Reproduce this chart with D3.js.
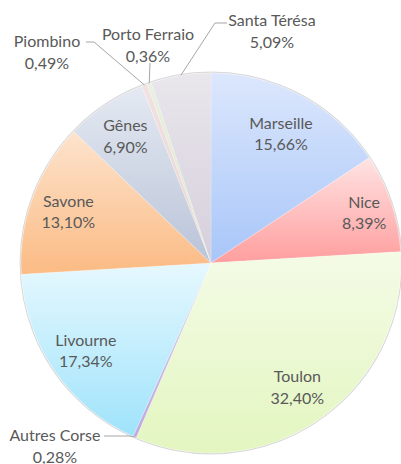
<!DOCTYPE html>
<html>
<head>
<meta charset="utf-8">
<script src="https://cdn.jsdelivr.net/npm/d3@7"></script>
<style>
  body { margin: 0; background: #fff; }
  svg { display: block; }
</style>
</head>
<body>
<div id="main"></div>
<script>
// share of each port, clockwise from 12 o'clock
const PORTS = ["Marseille", "Nice", "Toulon", "Autres Corse", "Livourne",
               "Savone", "Gênes", "Piombino", "Porto Ferraio", "Santa Térésa"];
const SHARES = [15.66, 8.39, 32.40, 0.28, 17.34, 13.10, 6.90, 0.49, 0.36, 5.09];
const SHARE_LABELS = ["15,66%", "8,39%", "32,40%", "0,28%", "17,34%",
                      "13,10%", "6,90%", "0,49%", "0,36%", "5,09%"];

// excel-like gradient fills: [top, bottom]
const COLORS = [
    ["#dce7fc", "#a8c6f9"],
    ["#ffe3e3", "#ff9e9e"],
    ["#f4fbe6", "#e3f6c0"],
    ["#d7c8ee", "#bfa9e0"],
    ["#e6f8fe", "#9fe3fb"],
    ["#fde3cd", "#fbbb84"],
    ["#e4e9f2", "#bac4d8"],
    ["#f2e2e2", "#e8d0d0"],
    ["#e9f0e0", "#d6e4c6"],
    ["#e9e6ec", "#d5cfdb"],
];

const ctx = {
    w: 401,
    h: 464,
    cx: 211,
    cy: 263,
    r: 190,
    font: "Lato, 'Open Sans', sans-serif",
    fontSize: 16,
    lineH: 21.5,
    textColor: "#595959",
};

// label placement: inside labels sit on a fraction of the radius,
// small slices get their label outside with a leader line
const LABEL_LAYOUT = {
    "Marseille":     {k: 0.78},
    "Nice":          {k: 0.85},
    "Toulon":        {k: 0.79},
    "Livourne":      {k: 0.80},
    "Savone":        {k: 0.80},
    "Gênes":         {k: 0.81},
    "Autres Corse":  {x: 55, y: 434, line: [[104, 436], [130, 436]]},
    "Piombino":      {x: 47, y: 40, line: [[86, 42], [94, 42]]},
    "Porto Ferraio": {x: 148, y: 33, line: [[150, 63]]},
    "Santa Térésa":  {x: 272, y: 19, line: [[227, 23], [215, 23]]},
};

function createViz() {
    let svgEl = d3.select("#main").append("svg")
        .attr("width", ctx.w)
        .attr("height", ctx.h);

    let data = PORTS.map((p, i) => ({port: p, share: SHARES[i], label: SHARE_LABELS[i], i: i}));

    let pie = d3.pie()
        .sort(null)
        .value(d => d.share);
    let arcs = pie(data);

    let arc = d3.arc()
        .innerRadius(0)
        .outerRadius(ctx.r);

    let defs = svgEl.append("defs");
    arcs.forEach((a, i) => {
        let g = defs.append("linearGradient")
            .attr("id", "grad" + i)
            .attr("x1", 0).attr("y1", 0)
            .attr("x2", 0).attr("y2", 1);
        g.append("stop").attr("offset", "0%").attr("stop-color", COLORS[i][0]);
        g.append("stop").attr("offset", "100%").attr("stop-color", COLORS[i][1]);
    });

    let pieG = svgEl.append("g")
        .attr("transform", `translate(${ctx.cx},${ctx.cy})`);

    // faint outline like the excel shadow
    pieG.append("circle")
        .attr("r", ctx.r + 0.8)
        .attr("fill", "none")
        .attr("stroke", "#d9d9d9")
        .attr("stroke-width", 1.2);

    pieG.selectAll("path.slice")
        .data(arcs)
        .enter()
        .append("path")
        .attr("class", "slice")
        .attr("d", arc)
        .attr("fill", (d, i) => `url(#grad${i})`)
        .attr("stroke", "#ffffff")
        .attr("stroke-opacity", 0.35)
        .attr("stroke-width", 0.6);

    let labelG = svgEl.append("g").attr("id", "labels");

    arcs.forEach(a => {
        let lay = LABEL_LAYOUT[a.data.port];
        let mid = (a.startAngle + a.endAngle) / 2;
        let x, y;
        if (lay.k !== undefined) {
            let rr = ctx.r * lay.k;
            x = ctx.cx + rr * Math.sin(mid);
            y = ctx.cy - rr * Math.cos(mid) - ctx.lineH / 2;
        } else {
            x = lay.x;
            y = lay.y;
            // leader line from label to slice edge
            let edge = [ctx.cx + ctx.r * Math.sin(mid), ctx.cy - ctx.r * Math.cos(mid)];
            let pts = lay.line.concat([edge]);
            labelG.append("path")
                .attr("d", d3.line()(pts))
                .attr("fill", "none")
                .attr("stroke", "#a6a6a6")
                .attr("stroke-width", 1);
        }
        let t = labelG.append("text")
            .attr("x", x)
            .attr("y", y)
            .attr("text-anchor", "middle")
            .attr("dominant-baseline", "central")
            .style("font-family", ctx.font)
            .style("font-size", ctx.fontSize + "px")
            .style("fill", ctx.textColor);
        t.append("tspan").attr("x", x).attr("dy", 0).text(a.data.port);
        t.append("tspan").attr("x", x).attr("dy", ctx.lineH).text(a.data.label);
    });
}

createViz();
</script>
</body>
</html>
